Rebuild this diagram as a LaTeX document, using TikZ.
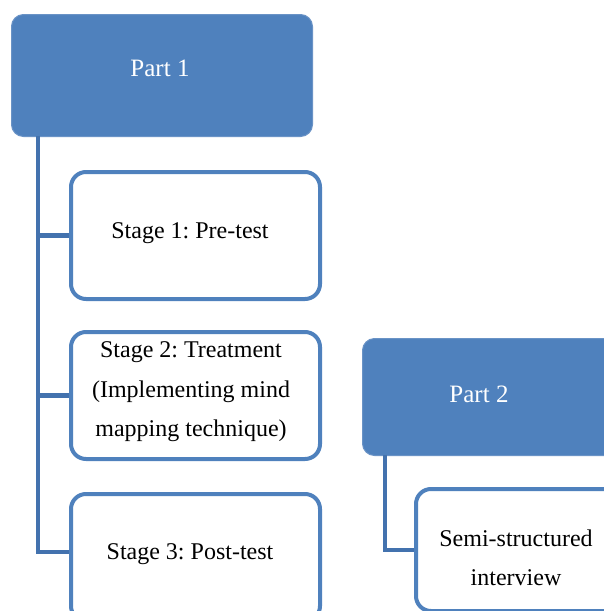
\documentclass[tikz,border=0pt]{standalone}
\usepackage{fontspec}
\setmainfont{Liberation Serif}
\frenchspacing
\definecolor{partblue}{HTML}{4F81BD}
\definecolor{partedge}{HTML}{6A93C6}
\definecolor{linkblue}{HTML}{4372AE}
\begin{document}
\begin{tikzpicture}[x=1pt,y=-1pt,
  partbox/.style={draw=partedge, line width=1pt, fill=partblue, rounded corners=12pt},
  stagebox/.style={draw=partblue, line width=4pt, fill=white, rounded corners=15pt},
  linktext/.style={font=\fontsize{24}{39.5}\selectfont, align=center, inner sep=0pt},
  parttext/.style={font=\fontsize{25}{28}\selectfont, text=white, inner sep=0pt},
  link/.style={draw=linkblue, line width=4.5pt}]
\useasboundingbox (0,0) rectangle (604,611);
% Part 1
\node[partbox, minimum width=301pt, minimum height=122pt, anchor=north west] (p1) at (11,14) {};
\node[parttext] (p1t) at (160,68) {Part 1};
% stage boxes
\node[stagebox, minimum width=249pt, minimum height=127pt, anchor=north west] (s1) at (69,170) {};
\node[stagebox, minimum width=249pt, minimum height=127pt, anchor=north west] (s2) at (69,330) {};
\node[stagebox, minimum width=249pt, minimum height=127pt, anchor=north west] (s3) at (69,492) {};
\node[linktext] (s1t) at (190,233) {Stage 1: Pre-test};
\node[linktext] (s2t) at (191,392) {Stage 2: Treatment\\(Implementing mind\\mapping technique)};
\node[linktext] (s3t) at (190,554) {Stage 3: Post-test};
% Part 2
\node[partbox, minimum width=260pt, minimum height=117pt, anchor=north west] (p2) at (362,338) {};
\node[parttext] (p2t) at (479,394) {Part 2};
\node[stagebox, minimum width=210pt, minimum height=122pt, anchor=north west] (iv) at (414,487) {};
\node[linktext] (ivt) at (516,558) {Semi-structured\\interview};
% connectors
\coordinate (b1) at (38,136);
\coordinate (b2) at (385,455);
\path[link] (b1) |- (s1.west);
\path[link] (b1) |- (s2.west);
\path[link] (b1) |- ([yshift=5.5pt]s3.west);
\path[link] (b2) |- (iv.west);
\end{tikzpicture}
\end{document}
